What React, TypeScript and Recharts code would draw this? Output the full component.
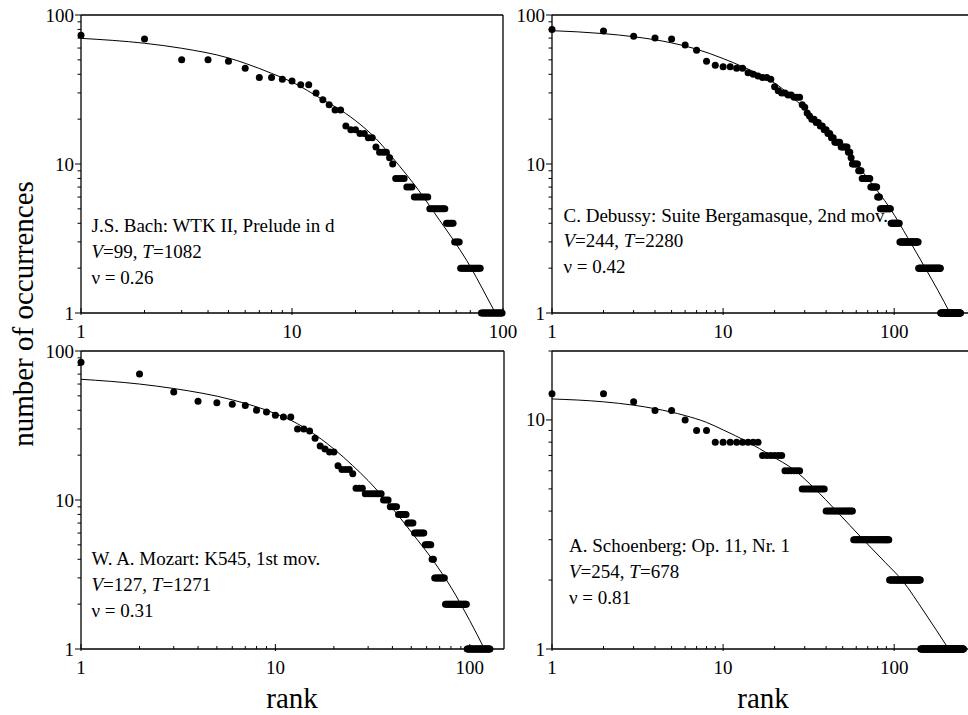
import React from 'react';
import { ComposedChart, Scatter, Line, XAxis, YAxis, ReferenceLine } from 'recharts';

const FONT = '"Liberation Serif", "Times New Roman", Times, serif';

// Rank-frequency data as run-lengths: [number of occurrences, how many consecutive ranks]
const bachRuns: [number, number][] = [
  [73, 1], [69, 1], [50, 2], [49, 1], [44, 1], [38, 2], [37, 1], [36, 1], [34, 2], [30, 1],
  [27, 1], [25, 1], [23, 2], [18, 1], [17, 2], [16, 2], [15, 2], [13, 1], [12, 3], [11, 1],
  [10, 1], [8, 4], [7, 3], [6, 7], [5, 9], [4, 5], [3, 4], [2, 16], [1, 21],
];
const debussyRuns: [number, number][] = [
  [80, 1], [78, 1], [72, 1], [70, 1], [69, 1], [63, 1], [58, 1], [49, 1], [46, 1], [45, 2],
  [44, 2], [41, 1], [40, 1], [39, 1], [38, 2], [37, 1], [33, 1], [31, 1], [30, 2], [29, 2],
  [28, 3], [25, 1], [24, 1], [22, 1], [21, 1], [20, 2], [19, 2], [18, 2], [17, 2], [16, 2],
  [15, 2], [14, 4], [13, 5], [12, 2], [11, 1], [10, 5], [9, 3], [8, 8], [7, 7], [6, 3],
  [5, 13], [4, 12], [3, 31], [2, 48], [1, 58],
];
const mozartRuns: [number, number][] = [
  [84, 1], [70, 1], [53, 1], [46, 1], [45, 1], [44, 1], [43, 1], [40, 1], [39, 1], [37, 1],
  [36, 2], [30, 2], [29, 1], [26, 1], [23, 1], [22, 1], [21, 2], [17, 1], [16, 3], [15, 1],
  [12, 3], [11, 7], [10, 3], [9, 4], [8, 5], [7, 4], [6, 7], [5, 5], [4, 2], [3, 9],
  [2, 22], [1, 31],
];
const schoenbergRuns: [number, number][] = [
  [13, 2], [12, 1], [11, 2], [10, 1], [9, 2], [8, 8], [7, 6], [6, 6], [5, 11], [4, 18],
  [3, 36], [2, 49], [1, 112],
];

// Fitted curves
const bachFitRanks = [1, 2, 3, 5, 6, 8, 10, 14, 17, 21, 25, 30, 40, 50, 60, 70, 80, 92];
const bachFitValues = [69.7, 64.6, 59.8, 51.5, 47.4, 40.6, 35.5, 27, 23, 18.5, 14.8, 11, 6.6, 4.2, 2.9, 2.05, 1.45, 1];
const debussyFitRanks = [1, 2, 3, 5, 7, 10, 13, 20, 30, 50, 70, 95, 120, 152, 180, 212];
const debussyFitValues = [78.5, 75, 71.5, 65, 59, 51, 45, 35, 23.6, 13, 8, 5, 3.2, 2, 1.42, 1];
const mozartFitRanks = [1, 2, 3, 6, 10, 13, 15, 20, 25, 30, 40, 50, 65, 80, 100, 119];
const mozartFitValues = [64.6, 60, 56, 47, 38, 32.5, 29, 22, 17, 13.5, 8.8, 6.1, 3.9, 2.6, 1.55, 1];
const schoenbergFitRanks = [1, 2, 3, 4, 6, 8, 10, 14, 19, 26, 34, 46, 66, 89, 111, 150, 208];
const schoenbergFitValues = [12.35, 12, 11.6, 11.2, 10.45, 9.76, 9.05, 8, 7, 6.05, 5.05, 4, 3, 2.38, 2, 1.45, 1];

// Axis ticks and labels
const rankTicks = [1, 2, 3, 4, 5, 6, 7, 8, 9, 10, 20, 30, 40, 50, 60, 70, 80, 90, 100];
const wideRankTicks = [1, 2, 3, 4, 5, 6, 7, 8, 9, 10, 20, 30, 40, 50, 60, 70, 80, 90, 100, 200];
const countTicks = [1, 2, 3, 4, 5, 6, 7, 8, 9, 10, 20, 30, 40, 50, 60, 70, 80, 90, 100];
const smallCountTicks = [1, 2, 3, 4, 5, 6, 7, 8, 9, 10, 20];
const tickLabels = [1, 10, 100];

const titles = [
  'J.S. Bach: WTK II, Prelude in d',
  'C. Debussy: Suite Bergamasque, 2nd mov.',
  'W. A. Mozart: K545, 1st mov.',
  'A. Schoenberg: Op. 11, Nr. 1',
];
const vocab = [99, 244, 127, 254];
const totals = [1082, 2280, 1271, 678];
const nus = ['0.26', '0.42', '0.31', '0.81'];

const expand = (runs: [number, number][]) => {
  const out: { rank: number; count: number }[] = [];
  let r = 1;
  runs.forEach(([v, n]) => {
    for (let i = 0; i < n; i++) out.push({ rank: r++, count: v });
  });
  return out;
};
const zipFit = (ranks: number[], vals: number[]) => ranks.map((rank, i) => ({ rank, fit: vals[i] }));

const XTick = (props: any) => {
  const { x, y, payload } = props;
  const v = payload.value;
  const major = tickLabels.includes(v);
  return (
    <g>
      <line x1={x} x2={x} y1={y + (major ? 2 : 0)} y2={y - (major ? 5 : 3)} stroke="#000" strokeWidth={1} />
      {major && (
        <text x={x} y={y + 24.5} textAnchor="middle" fontFamily={FONT} fontSize={19} fill="#000">
          {v}
        </text>
      )}
    </g>
  );
};

const YTick = (props: any) => {
  const { x, y, payload } = props;
  const v = payload.value;
  const major = tickLabels.includes(v);
  return (
    <g>
      <line x1={x} x2={x - (major ? 6 : 3.5)} y1={y} y2={y} stroke="#000" strokeWidth={1} />
      {major && (
        <text x={x - 7} y={y + 6.5} textAnchor="end" fontFamily={FONT} fontSize={19} fill="#000">
          {v}
        </text>
      )}
    </g>
  );
};

const Dot = (props: any) => {
  const { cx, cy } = props;
  if (cx == null || cy == null) return <g />;
  return <circle cx={cx} cy={cy} r={3.5} fill="#000" />;
};

type PanelProps = {
  left: number;
  top: number;
  width: number;
  height: number;
  marginTop: number;
  marginRight: number;
  yAxisWidth: number;
  xAxisHeight: number;
  xDomain: [number, number];
  yDomain: [number, number];
  xTicks: number[];
  yTicks: number[];
  points: { rank: number; count: number }[];
  fit: { rank: number; fit: number }[];
  rightBorder: boolean;
};

const axisStyle = { stroke: '#000', strokeWidth: 1.3 };

function Panel(p: PanelProps) {
  return (
    <div style={{ position: 'absolute', left: p.left, top: p.top }}>
      <ComposedChart
        width={p.width}
        height={p.height}
        margin={{ top: p.marginTop, right: p.marginRight, bottom: 0, left: 0 }}
      >
        <XAxis
          type="number"
          dataKey="rank"
          scale="log"
          domain={p.xDomain}
          ticks={p.xTicks}
          interval={0}
          tickSize={0}
          tickMargin={0}
          tickLine={false}
          tick={(t: any) => <XTick {...t} />}
          axisLine={axisStyle}
          height={p.xAxisHeight}
        />
        <YAxis
          type="number"
          scale="log"
          domain={p.yDomain}
          ticks={p.yTicks}
          interval={0}
          tickSize={0}
          tickMargin={0}
          tickLine={false}
          tick={(t: any) => <YTick {...t} />}
          axisLine={axisStyle}
          width={p.yAxisWidth}
        />
        <ReferenceLine y={p.yDomain[1]} stroke="#000" strokeWidth={1.3} />
        {p.rightBorder && <ReferenceLine x={p.xDomain[1]} stroke="#000" strokeWidth={1.3} />}
        <Line
          data={p.fit}
          dataKey="fit"
          type="monotone"
          stroke="#000"
          strokeWidth={1}
          dot={false}
          activeDot={false}
          isAnimationActive={false}
        />
        <Scatter data={p.points} dataKey="count" fill="#000" shape={Dot} isAnimationActive={false} />
      </ComposedChart>
    </div>
  );
}

const annPos = [
  { x: 91.5, ys: [232, 258, 284] },
  { x: 563.5, ys: [221.5, 247, 273] },
  { x: 91.5, ys: [565, 591, 617] },
  { x: 569, ys: [552, 578, 603.5] },
];

export default function App() {
  return (
    <div style={{ position: 'absolute', left: 0, top: 0, width: 968, height: 715, background: '#fff' }}>
      <svg width={968} height={715} style={{ position: 'absolute', left: 0, top: 0 }}>
        {annPos.map((a, i) => (
          <g key={i} fontFamily={FONT} fontSize={19} fill="#000">
            <text x={a.x} y={a.ys[0]}>{titles[i]}</text>
            <text x={a.x} y={a.ys[1]}>
              <tspan fontStyle="italic">V</tspan>={vocab[i]}, <tspan fontStyle="italic">T</tspan>={totals[i]}
            </text>
            <text x={a.x} y={a.ys[2]}>ν = {nus[i]}</text>
          </g>
        ))}
        <text
          x={33}
          y={314}
          transform="rotate(-90, 33, 314)"
          textAnchor="middle"
          fontFamily={FONT}
          fontSize={29}
          fill="#000"
        >
          number of occurrences
        </text>
        <text x={292} y={708} textAnchor="middle" fontFamily={FONT} fontSize={29} fill="#000">
          rank
        </text>
        <text x={763} y={708} textAnchor="middle" fontFamily={FONT} fontSize={29} fill="#000">
          rank
        </text>
      </svg>
      <Panel
        left={0} top={0} width={540} height={345} marginTop={15} marginRight={37}
        yAxisWidth={81} xAxisHeight={32} xDomain={[1, 100]} yDomain={[1, 100]}
        xTicks={rankTicks} yTicks={countTicks}
        points={expand(bachRuns)} fit={zipFit(bachFitRanks, bachFitValues)} rightBorder
      />
      <Panel
        left={500} top={0} width={468} height={345} marginTop={15} marginRight={0}
        yAxisWidth={52} xAxisHeight={32} xDomain={[1, 270]} yDomain={[1, 100]}
        xTicks={wideRankTicks} yTicks={countTicks}
        points={expand(debussyRuns)} fit={zipFit(debussyFitRanks, debussyFitValues)} rightBorder={false}
      />
      <Panel
        left={0} top={330} width={540} height={385} marginTop={21} marginRight={36}
        yAxisWidth={81} xAxisHeight={66} xDomain={[1, 150]} yDomain={[1, 100]}
        xTicks={rankTicks} yTicks={countTicks}
        points={expand(mozartRuns)} fit={zipFit(mozartFitRanks, mozartFitValues)} rightBorder
      />
      <Panel
        left={500} top={330} width={468} height={385} marginTop={21} marginRight={0}
        yAxisWidth={52} xAxisHeight={66} xDomain={[1, 270]} yDomain={[1, 20]}
        xTicks={wideRankTicks} yTicks={smallCountTicks}
        points={expand(schoenbergRuns)} fit={zipFit(schoenbergFitRanks, schoenbergFitValues)} rightBorder={false}
      />
    </div>
  );
}
